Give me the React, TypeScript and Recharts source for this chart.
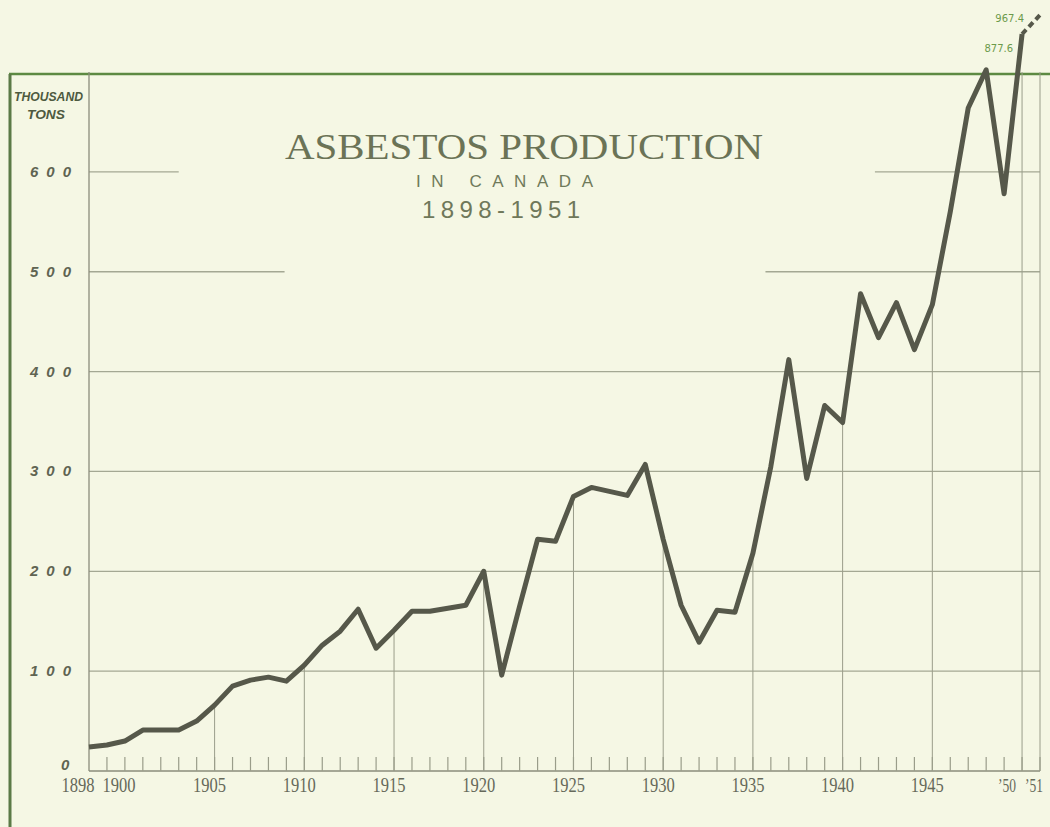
import React from "react";
import { ComposedChart, Line, XAxis, YAxis, ReferenceLine, Customized } from "recharts";

// Asbestos production in Canada, thousand tons
const years = [
  1898, 1899, 1900, 1901, 1902, 1903, 1904, 1905, 1906, 1907, 1908, 1909, 1910, 1911, 1912, 1913, 1914, 1915,
  1916, 1917, 1918, 1919, 1920, 1921, 1922, 1923, 1924, 1925, 1926, 1927, 1928, 1929, 1930, 1931, 1932, 1933,
  1934, 1935, 1936, 1937, 1938, 1939, 1940, 1941, 1942, 1943, 1944, 1945, 1946, 1947, 1948, 1949, 1950, 1951,
];
const production = [
  24, 26, 30, 41, 41, 41, 50, 66, 85, 91, 94, 90, 106, 126, 140, 162, 123, 141,
  160, 160, 163, 166, 200, 96, 165, 232, 230, 275, 284, 280, 276, 307, 232, 166, 129, 161,
  159, 218, 305, 412, 293, 366, 349, 478, 434, 469, 422, 467, 560, 664, 710, 578, 877.6, 967.4,
];
// last year is an estimate, drawn dashed
const estimateFrom = 1950;

const yTicks = [0, 100, 200, 300, 400, 500, 600];
const gridValues = [100, 200, 300, 400, 500, 600];
const stemYears = [1905, 1910, 1915, 1920, 1925, 1930, 1935, 1940, 1945, 1950, 1951];
const xLabels: Record<number, string> = {
  1898: "1898", 1900: "1900", 1905: "1905", 1910: "1910", 1915: "1915", 1920: "1920",
  1925: "1925", 1930: "1930", 1935: "1935", 1940: "1940", 1945: "1945", 1950: "\u201950", 1951: "\u201951",
};

// chart frame top (the scale is compressed above it)
const FRAME_TOP = 700;
const SCALE_MAX = 1000;

// where the title blanks out the grid (years)
const gridGaps: Record<number, [number, number]> = { 600: [1903, 1941.8], 500: [1908.9, 1935.7] };
const labelDx: Record<number, number> = { 1898: -11, 1900: -6, 1950: -15, 1951: -6 };

const BG = "#f5f7e4";
const LINE = "#56584a";
const GRID = "#a4a893";
const STEM = "#9a9d8a";
const GREEN = "#5d8a42";
const TITLE = "#6b7356";

const data = years.map((year, i) => ({
  year,
  production: year <= estimateFrom ? production[i] : null,
  estimate: year >= estimateFrom ? production[i] : null,
}));

const BREAK_SHARE = 0.9161;
function makeBrokenScale(): any {
  let dom: number[] = [0, SCALE_MAX];
  let rng: number[] = [0, 1];
  const scale: any = (v: any) => {
    const n = Number(v);
    const d0 = dom[0];
    const d1 = dom[dom.length - 1];
    const t =
      n <= FRAME_TOP
        ? ((n - d0) / (FRAME_TOP - d0)) * BREAK_SHARE
        : BREAK_SHARE + ((n - FRAME_TOP) / (d1 - FRAME_TOP)) * (1 - BREAK_SHARE);
    return rng[0] + t * (rng[rng.length - 1] - rng[0]);
  };
  scale.domain = (d?: any[]) => {
    if (d === undefined) return dom.slice();
    dom = d.map(Number);
    return scale;
  };
  scale.range = (r?: any[]) => {
    if (r === undefined) return rng.slice();
    rng = r.map(Number);
    return scale;
  };
  scale.copy = () => makeBrokenScale().domain(dom).range(rng);
  scale.ticks = () => yTicks.slice();
  scale.tickFormat = () => (v: any) => String(v);
  scale.nice = () => scale;
  scale.clamp = () => scale;
  return scale;
}

const YTick = (props: any) => {
  const { y, payload } = props;
  const v = payload.value;
  const style = { fontFamily: "Liberation Sans", fontStyle: "italic", fontWeight: 600, fontSize: 15, fill: "#5f6452" };
  if (v === 0) {
    return (
      <text x={61} y={y - 1} {...style}>
        0
      </text>
    );
  }
  return (
    <text x={30} y={y + 5} textLength={41} lengthAdjust="spacing" {...style}>
      {v}
    </text>
  );
};

const XTick = (props: any) => {
  const { x, y, payload } = props;
  const yr = payload.value;
  const label = xLabels[yr];
  const short = yr >= 1950;
  return (
    <g>
      {yr !== 1898 && <line x1={x} y1={y} x2={x} y2={y - 14} stroke={STEM} strokeWidth={1.2} />}
      {label && (
        <text
          x={x + (labelDx[yr] ?? -5)}
          y={y + 21}
          textAnchor="middle"
          textLength={short ? 18 : 33}
          lengthAdjust="spacingAndGlyphs"
          fontFamily="Liberation Serif"
          fontSize={short ? 18 : 21}
          fill="#66695a"
        >
          {label}
        </text>
      )}
    </g>
  );
};

const EstimateLabel = (props: any) => {
  const { x, y, value, index } = props;
  if (value == null) return null;
  const first = index === years.indexOf(estimateFrom);
  return (
    <text
      x={first ? x - 9 : x - 16}
      y={first ? y + 18 : y + 7}
      textAnchor="end"
      fontFamily="DejaVu Sans"
      fontSize={10}
      fill="#6c9a4a"
    >
      {value}
    </text>
  );
};

const Decorations = () => (
  <g>
    <line x1={9} y1={74} x2={1050} y2={74} stroke={GREEN} strokeWidth={2.5} />
    <line x1={10} y1={74} x2={10} y2={827} stroke="#5b7a46" strokeWidth={3} />
    <text x={14} y={101} textLength={69} lengthAdjust="spacingAndGlyphs" fontFamily="Liberation Sans"
      fontStyle="italic" fontWeight={600} fontSize={13} fill="#4e5a40">THOUSAND</text>
    <text x={27} y={119} textLength={38} lengthAdjust="spacingAndGlyphs" fontFamily="Liberation Sans"
      fontStyle="italic" fontWeight={600} fontSize={13} fill="#4e5a40">TONS</text>
    <text x={285} y={159} textLength={478} lengthAdjust="spacingAndGlyphs" fontFamily="Liberation Serif"
      fontSize={36} fill={TITLE}>ASBESTOS PRODUCTION</text>
    <text x={416} y={187} textLength={177} lengthAdjust="spacing" fontFamily="Liberation Sans"
      fontSize={17} fill="#6f7a5a">IN CANADA</text>
    <text x={422} y={218} textLength={158} lengthAdjust="spacing" fontFamily="Liberation Sans"
      fontSize={24} fill="#6f785a">1898-1951</text>
  </g>
);

export default function App() {
  return (
    <div style={{ position: "absolute", left: 0, top: 0, width: 1050, height: 827, background: BG }}>
      <ComposedChart width={1050} height={827} data={data} margin={{ top: 8, right: 10, bottom: 0, left: 0 }}>
        <XAxis
          dataKey="year"
          type="number"
          domain={[1898, 1951]}
          ticks={years}
          interval={0}
          tick={<XTick />}
          tickSize={0}
          tickMargin={0}
          tickLine={false}
          axisLine={{ stroke: "#8a8d7b", strokeWidth: 1.5 }}
          height={56}
        />
        <YAxis
          type="number"
          domain={[0, SCALE_MAX]}
          scale={makeBrokenScale()}
          ticks={yTicks}
          interval={0}
          tick={<YTick />}
          tickLine={false}
          axisLine={false}
          width={89}
        />
        {gridValues.map((v) => {
          const gap = gridGaps[v];
          if (!gap) {
            return (
              <ReferenceLine key={v} segment={[{ x: 1898, y: v }, { x: 1951, y: v }]} stroke={GRID} strokeWidth={1.3} />
            );
          }
          return (
            <React.Fragment key={v}>
              <ReferenceLine segment={[{ x: 1898, y: v }, { x: gap[0], y: v }]} stroke={GRID} strokeWidth={1.3} />
              <ReferenceLine segment={[{ x: gap[1], y: v }, { x: 1951, y: v }]} stroke={GRID} strokeWidth={1.3} />
            </React.Fragment>
          );
        })}
        <ReferenceLine segment={[{ x: 1898, y: 0 }, { x: 1898, y: FRAME_TOP }]} stroke="#8a8d7b" strokeWidth={1.3} />
        {stemYears.map((yr) => (
          <ReferenceLine
            key={yr}
            segment={[{ x: yr, y: 0 }, { x: yr, y: Math.min(production[years.indexOf(yr)], FRAME_TOP) }]}
            stroke={STEM}
            strokeWidth={1}
          />
        ))}
        <Customized component={<Decorations />} />
        <Line
          dataKey="production"
          type="linear"
          stroke={LINE}
          strokeWidth={5}
          strokeLinejoin="round"
          dot={false}
          isAnimationActive={false}
          connectNulls={false}
        />
        <Line
          dataKey="estimate"
          type="linear"
          stroke={LINE}
          strokeWidth={4}
          strokeDasharray="6 4"
          dot={false}
          label={<EstimateLabel />}
          isAnimationActive={false}
        />
      </ComposedChart>
    </div>
  );
}
